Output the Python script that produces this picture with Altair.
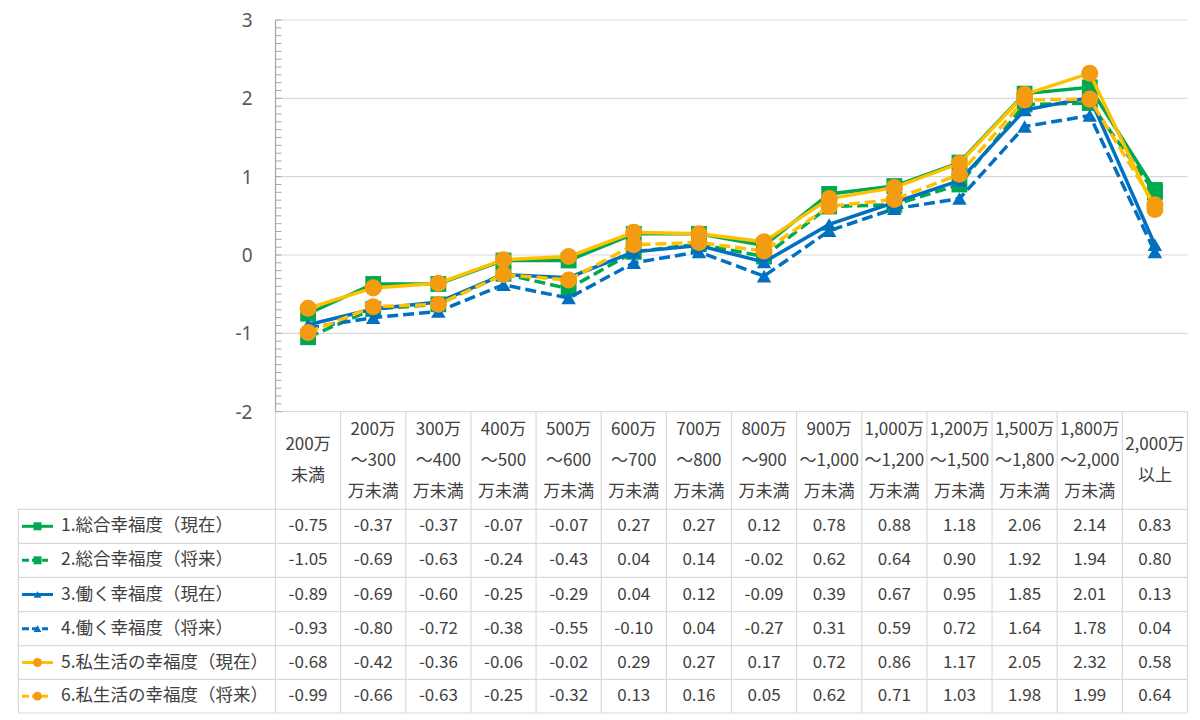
import altair as alt
import pandas as pd
import numpy as np

# ---------------- data ----------------
categories = [
    "200万\n未満", "200万\n～300\n万未満", "300万\n～400\n万未満", "400万\n～500\n万未満",
    "500万\n～600\n万未満", "600万\n～700\n万未満", "700万\n～800\n万未満", "800万\n～900\n万未満",
    "900万\n～1,000\n万未満", "1,000万\n～1,200\n万未満", "1,200万\n～1,500\n万未満",
    "1,500万\n～1,800\n万未満", "1,800万\n～2,000\n万未満", "2,000万\n以上",
]
series_names = [
    "1.総合幸福度（現在）", "2.総合幸福度（将来）", "3.働く幸福度（現在）",
    "4.働く幸福度（将来）", "5.私生活の幸福度（現在）", "6.私生活の幸福度（将来）",
]
s1 = [-0.75, -0.37, -0.37, -0.07, -0.07, 0.27, 0.27, 0.12, 0.78, 0.88, 1.18, 2.06, 2.14, 0.83]
s2 = [-1.05, -0.69, -0.63, -0.24, -0.43, 0.04, 0.14, -0.02, 0.62, 0.64, 0.90, 1.92, 1.94, 0.80]
s3 = [-0.89, -0.69, -0.60, -0.25, -0.29, 0.04, 0.12, -0.09, 0.39, 0.67, 0.95, 1.85, 2.01, 0.13]
s4 = [-0.93, -0.80, -0.72, -0.38, -0.55, -0.10, 0.04, -0.27, 0.31, 0.59, 0.72, 1.64, 1.78, 0.04]
s5 = [-0.68, -0.42, -0.36, -0.06, -0.02, 0.29, 0.27, 0.17, 0.72, 0.86, 1.17, 2.05, 2.32, 0.58]
s6 = [-0.99, -0.66, -0.63, -0.25, -0.32, 0.13, 0.16, 0.05, 0.62, 0.71, 1.03, 1.98, 1.99, 0.64]
series_values = [s1, s2, s3, s4, s5, s6]
y_tick_labels = [-2, -1, 0, 1, 2, 3]
y_minor_step = 0.1

# ---------------- styles ----------------
GREEN, BLUE, YELLOW, ORANGE = "#00A84F", "#0070C0", "#FFC000", "#F39C12"
line_colors = [GREEN, GREEN, BLUE, BLUE, YELLOW, YELLOW]
marker_colors = [GREEN, GREEN, BLUE, BLUE, ORANGE, ORANGE]
shapes = ["square", "square", "triangle-up", "triangle-up", "circle", "circle"]
marker_sizes = [250, 250, 210, 210, 290, 290]
legend_sizes = [64, 64, 60, 60, 80, 80]
dashed = [False, True, False, True, False, True]
FONT = "Noto Sans CJK JP"
TEXT_COLOR = "#404040"
GRID_COLOR = "#D9D9D9"
AXIS_COLOR = "#A6A6A6"

# ---------------- layout (page pixels -> data units) ----------------
PXU_X = 65.14
PXU_Y = 78.33
VIEW_LEFT, VIEW_TOP = 18, 20
PLOT_LEFT = 275.5
W, H = 1169, 693
X_MIN = -(PLOT_LEFT - VIEW_LEFT) / PXU_X
X_MAX = X_MIN + W / PXU_X
Y_MAX = 3
Y_MIN = Y_MAX - H / PXU_Y


def ypx(px):
    return Y_MAX - (px - VIEW_TOP) / PXU_Y


def xpx(px):
    return (px - PLOT_LEFT) / PXU_X


n = len(categories)
HEADER_TOP, HEADER_BOTTOM = 411.7, 509.3
HEADER_LH = 31
row_lines = [509.3, 543.3, 577.3, 611.7, 645.7, 679.3, 713.0]
row_centers = [(row_lines[i] + row_lines[i + 1]) / 2 for i in range(6)]

XS = alt.Scale(domain=[X_MIN, X_MAX], nice=False, zero=False)
YS = alt.Scale(domain=[Y_MIN, Y_MAX], nice=False, zero=False)


def X(f):
    return alt.X(f, scale=XS, axis=None)


def Y(f):
    return alt.Y(f, scale=YS, axis=None)


layers = []

# gridlines
grid_df = pd.DataFrame({"g": y_tick_labels, "x0": 0, "x1": n})
layers.append(alt.Chart(grid_df).mark_rule(color=GRID_COLOR, strokeWidth=1.2).encode(
    x=X("x0:Q"), x2="x1:Q", y=Y("g:Q")))

# y axis: line, inside minor ticks, labels
ax_df = pd.DataFrame({"x": [0], "y0": [y_tick_labels[0]], "y1": [y_tick_labels[-1]]})
layers.append(alt.Chart(ax_df).mark_rule(color=AXIS_COLOR, strokeWidth=1.2).encode(
    x=X("x:Q"), y=Y("y0:Q"), y2="y1:Q"))
minor = np.arange(y_tick_labels[0], y_tick_labels[-1] + 1e-9, y_minor_step)
tick_df = pd.DataFrame({"t": np.round(minor, 1), "x0": 0, "x1": 6 / PXU_X})
layers.append(alt.Chart(tick_df).mark_rule(color=AXIS_COLOR, strokeWidth=1).encode(
    x=X("x0:Q"), x2="x1:Q", y=Y("t:Q")))
lab_df = pd.DataFrame({"t": y_tick_labels, "x": 0, "label": [str(v) for v in y_tick_labels]})
layers.append(alt.Chart(lab_df).mark_text(
    font="Noto Sans", fontSize=19, color="#595959", align="right", baseline="middle", dx=-23, dy=1).encode(
    x=X("x:Q"), y=Y("t:Q"), text="label:N"))

# table lines
hl_df = pd.DataFrame({"y": [ypx(p) for p in row_lines], "x0": X_MIN, "x1": n})
layers.append(alt.Chart(hl_df).mark_rule(color=GRID_COLOR, strokeWidth=1.2).encode(
    x=X("x0:Q"), x2="x1:Q", y=Y("y:Q")))
vl_df = pd.DataFrame({"x": list(range(n + 1)), "y0": ypx(HEADER_TOP), "y1": ypx(row_lines[-1])})
vl_df = pd.concat([vl_df, pd.DataFrame({"x": [X_MIN + 0.005], "y0": [ypx(HEADER_BOTTOM)],
                                         "y1": [ypx(row_lines[-1])]})])
layers.append(alt.Chart(vl_df).mark_rule(color=GRID_COLOR, strokeWidth=1.2).encode(
    x=X("x:Q"), y=Y("y0:Q"), y2="y1:Q"))

# header text (multi-line, centred in the header row)
hc = (HEADER_TOP + HEADER_BOTTOM) / 2
hd_df = pd.DataFrame({
    "x": [i + 0.5 for i in range(n)],
    "y": [ypx(hc - (c.count("\n")) * HEADER_LH / 2) for c in categories],
    "label": categories,
})
layers.append(alt.Chart(hd_df).mark_text(
    font=FONT, fontSize=17, color=TEXT_COLOR, lineBreak="\n", lineHeight=HEADER_LH,
    align="center", baseline="middle").encode(
    x=X("x:Q"), y=Y("y:Q"), text="label:N"))

# data cells
cell_rows = []
for r, vals in enumerate(series_values):
    for i, v in enumerate(vals):
        cell_rows.append({"x": i + 0.5, "y": ypx(row_centers[r]), "txt": f"{v:.2f}"})
cell_df = pd.DataFrame(cell_rows)
layers.append(alt.Chart(cell_df).mark_text(
    font=FONT, fontSize=17, color=TEXT_COLOR, align="center", baseline="middle").encode(
    x=X("x:Q"), y=Y("y:Q"), text="txt:N"))

# legend column
lg_df = pd.DataFrame({"x": xpx(61), "y": [ypx(c) for c in row_centers], "label": series_names})
layers.append(alt.Chart(lg_df).mark_text(
    font=FONT, fontSize=17.5, color=TEXT_COLOR, align="left", baseline="middle").encode(
    x=X("x:Q"), y=Y("y:Q"), text="label:N"))
for r in range(6):
    x_end = 48 if dashed[r] else 53
    sym_df = pd.DataFrame({"x0": [xpx(22)], "x1": [xpx(x_end)], "xm": [xpx(37.5)],
                           "y": [ypx(row_centers[r])]})
    rule_kw = dict(color=line_colors[r], strokeWidth=3)
    if dashed[r]:
        rule_kw["strokeDash"] = [7, 3]
    layers.append(alt.Chart(sym_df).mark_rule(**rule_kw).encode(
        x=X("x0:Q"), x2="x1:Q", y=Y("y:Q")))
    layers.append(alt.Chart(sym_df).mark_point(
        filled=True, shape=shapes[r], size=legend_sizes[r], color=marker_colors[r], opacity=1).encode(
        x=X("xm:Q"), y=Y("y:Q")))

# series lines + markers
for r, vals in enumerate(series_values):
    sdf = pd.DataFrame({"x": [i + 0.5 for i in range(n)], "value": vals})
    line_kw = dict(color=line_colors[r], strokeWidth=3.5)
    if dashed[r]:
        line_kw["strokeDash"] = [11, 5]
    layers.append(alt.Chart(sdf).mark_line(**line_kw).encode(
        x=X("x:Q"), y=Y("value:Q")))
    layers.append(alt.Chart(sdf).mark_point(
        filled=True, shape=shapes[r], size=marker_sizes[r], color=marker_colors[r], opacity=1).encode(
        x=X("x:Q"), y=Y("value:Q")))

chart = alt.layer(*layers).properties(
    width=W, height=H,
    autosize=alt.AutoSizeParams(type="none"),
    padding={"left": VIEW_LEFT - 8, "top": VIEW_TOP - 8, "right": 4, "bottom": 4},
).configure(background="white").configure_view(stroke=None)

chart.save("out.html", embed_options={"renderer": "svg", "actions": False})
